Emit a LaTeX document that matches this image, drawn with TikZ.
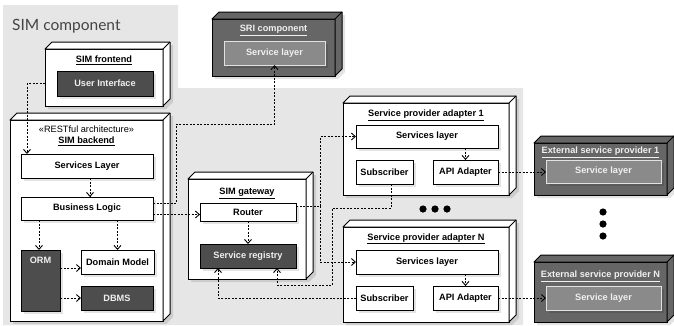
\documentclass[tikz,border=0pt]{standalone}
\usepackage{fontspec}
\setmainfont{Liberation Sans}
\newfontfamily\titlefont{Lato}
\usetikzlibrary{arrows.meta,shadows}
\definecolor{bgc}{RGB}{230,230,230}
\definecolor{darkc}{RGB}{77,77,77}
\definecolor{extc}{RGB}{102,102,102}
\definecolor{innc}{RGB}{138,138,138}
\definecolor{innb}{RGB}{225,225,225}
\definecolor{ltext}{RGB}{240,240,240}
\definecolor{ttlc}{RGB}{68,68,68}

\tikzset{
  base/.style={inner sep=0pt, outer sep=0pt, line width=1pt, font=\bfseries\fontsize{9.2}{11}\selectfont},
  shd/.style={drop shadow={shadow xshift=3pt, shadow yshift=-3pt, opacity=0.11, fill=black}},
  wbox/.style={base, draw=black, fill=white, shd},
  dbox/.style={base, draw=black, fill=darkc, text=ltext, shd},
  ibox/.style={base, draw=innb, fill=innc, text=ltext, shd},
  ttl/.style={inner sep=0pt, font=\bfseries\fontsize{9.2}{11}\selectfont, anchor=base},
  dline/.style={line width=0.9pt, dash pattern=on 2pt off 1.5pt},
  conn/.style={dline, -{Straight Barb[length=4pt,width=7pt]}},
}

% name, x1, y1, x2, y2, fill
\newcommand\cubebox[6]{%
  \fill[black,opacity=0.11] (#2+3,#3+3) -- (#2+10,#3-4) -- (#4+10,#3-4) -- (#4+10,#5-4) -- (#4+3,#5+3) -- (#2+3,#5+3) -- cycle;
  \node[draw=black, fill=#6, line width=1pt, inner sep=0pt, outer sep=0pt,
        minimum width={(#4-#2)*1pt}, minimum height={(#5-#3)*1pt}] (#1) at ({(#2+#4)/2},{(#3+#5)/2}) {};
  \filldraw[fill=#6, line width=1pt, line join=round] (#1.north west) -- ++(7pt,7pt) -- ([shift={(7pt,7pt)}]#1.north east) -- ([shift={(7pt,7pt)}]#1.south east) -- (#1.south east) -- (#1.north east) -- cycle;
  \draw[line width=1pt] (#1.north east) -- ++(7pt,7pt);
}
% style, name, x1, y1, x2, y2, text
\newcommand\rb[7]{\node[#1, minimum width={(#5-#3)*1pt}, minimum height={(#6-#4)*1pt}] (#2) at ({(#3+#5)/2},{(#4+#6)/2}) {#7};}

\begin{document}
\begin{tikzpicture}[x=1pt,y=-1pt]
\useasboundingbox (0,0) rectangle (674,325);
\fill[bgc] (3,5) -- (178,5) -- (178,88) -- (523,88) -- (523,325) -- (3,325) -- cycle;
\node[anchor=base west, inner sep=0pt, text=ttlc, font=\titlefont\fontsize{15.5}{18}\selectfont] (simc) at (12,30) {SIM component};

% SIM frontend
\cubebox{fe}{45}{49}{163}{106}{white}
\node[ttl] (fet) at (104,62.6) {\underline{SIM frontend}};
\rb{dbox}{ui}{57}{71}{153}{96}{User Interface}

% SRI component
\cubebox{sri}{212}{19}{335}{76}{extc}
\node[ttl, text=ltext] (srit) at (273.5,31.6) {\underline{SRI component}};
\rb{ibox}{srisl}{224}{41}{325}{65}{Service layer}

% SIM backend
\cubebox{be}{10}{120}{163}{321}{white}
\node[ttl, font=\fontsize{9.2}{11}\selectfont] (best) at (86.5,132.6) {«RESTful architecture»};
\node[ttl] (bet) at (86.5,143.8) {\underline{SIM backend}};
\rb{wbox}{sl}{21}{154}{153}{178}{Services Layer}
\rb{wbox}{bl}{21}{197}{153}{220}{Business Logic}
\rb{dbox}{orm}{21}{250}{60}{311}{}
\node[ttl, text=ltext, anchor=north] (ormt) at ([yshift=-7pt]orm.north) {ORM};
\rb{wbox}{dm}{81}{250}{154}{274}{Domain Model}
\rb{dbox}{dbms}{81}{286}{153}{310}{DBMS}

% SIM gateway
\cubebox{gw}{188}{179}{306}{279}{white}
\node[ttl] (gwt) at (247,194.6) {\underline{SIM gateway}};
\rb{wbox}{router}{200}{203}{296}{221}{Router}
\rb{dbox}{sr}{200}{244}{296}{268}{Service registry}

% Service provider adapter 1
\cubebox{spa1}{343}{103}{509}{195}{white}
\node[ttl] (spa1t) at (426,116.6) {\underline{Service provider adapter 1}};
\rb{wbox}{sl1}{356}{125}{498}{148}{Services layer}
\rb{wbox}{sub1}{356}{160}{413}{184}{Subscriber}
\rb{wbox}{api1}{433}{160}{498}{184}{API Adapter}

% External service provider 1
\cubebox{esp1}{534}{143}{667}{195}{extc}
\node[ttl, text=ltext] (esp1t) at (600.5,153.6) {\underline{External service provider 1}};
\rb{ibox}{e1sl}{546}{160}{661}{183}{Service layer}

% Service provider adapter N
\cubebox{spaN}{343}{227}{509}{322}{white}
\node[ttl] (spaNt) at (426,240) {\underline{Service provider adapter N}};
\rb{wbox}{slN}{356}{250}{498}{274}{Services layer}
\rb{wbox}{subN}{356}{286}{413}{310}{Subscriber}
\rb{wbox}{apiN}{433}{286}{498}{310}{API Adapter}

% External service provider N
\cubebox{espN}{534}{262}{667}{322}{extc}
\node[ttl, text=ltext] (espNt) at (600.5,277.6) {\underline{External service provider N}};
\rb{ibox}{eNsl}{546}{286}{661}{310}{Service layer}

% dots
\foreach \xx in {423,435,447} \fill (\xx,209) circle (3.6pt);
\foreach \yy in {212,224,236} \fill (603,\yy) circle (3.6pt);

% connectors
\draw[conn] (fe.west |- ui.west) -| ([xshift=6pt]sl.north west);
\draw[conn] ([xshift=3pt]sl.south) -- ([xshift=3pt]bl.north);
\draw[conn] ([yshift=5.5pt]bl.east) -| (176,124) -| (srisl.south);
\draw[conn] (bl.east |- 0,214.5) -- (router.west |- 0,214.5);
\draw[conn] (bl.south -| 39,0) -- (orm.north -| 39,0);
\draw[conn] (bl.south -| dm.north) -- (dm.north);
\draw[conn] (orm.east |- 0,268) -- (dm.west |- 0,268);
\draw[conn] (orm.east |- dbms.west) -- (dbms.west);
\draw[conn] (router.south) -- (sr.north);
\coordinate (fork) at (320,206);
\draw[dline] (router.east |- fork) -- (fork);
\draw[conn] (fork) |- (sl1.west);
\draw[conn] (fork) |- (slN.west);
\draw[conn] ([xshift=6.5pt]sub1.south) |- (332,208) -- (332,285) -| (sr.south -| 277,0);
\draw[conn] (subN.west) -| (sr.south -| 218,0);
\draw[conn] (api1.east) -- (api1.east -| e1sl.west);
\draw[conn] (apiN.east) -- (apiN.east -| eNsl.west);
\draw[conn] (sl1.south -| api1.north) -- (api1.north);
\draw[conn] (slN.south -| apiN.north) -- (apiN.north);
\end{tikzpicture}
\end{document}
